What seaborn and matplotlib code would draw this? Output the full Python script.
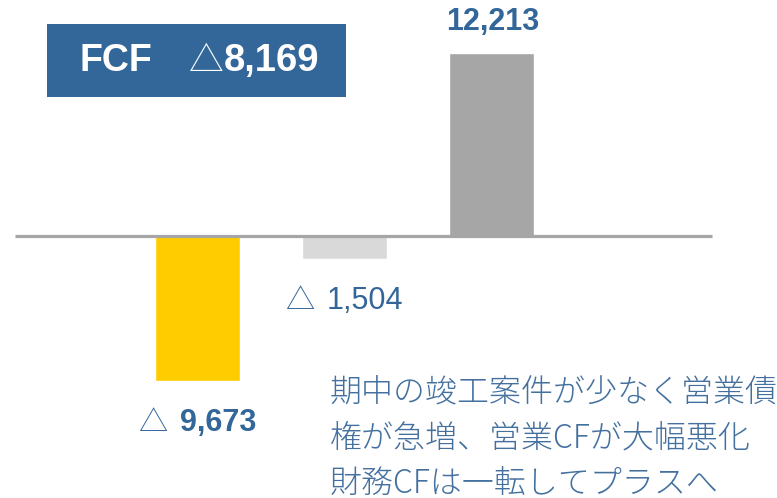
import matplotlib
matplotlib.use("Agg")
import matplotlib.pyplot as plt
from matplotlib.patches import Rectangle
import seaborn as sns
import pandas as pd

# データ (単位: 百万円)
categories = ["営業CF", "投資CF", "財務CF"]
values = [-9673, -1504, 12213]
bar_colors = ["#FFCC00", "#D9D9D9", "#A6A6A6"]
value_labels = ["9,673", "1,504", "12,213"]
fcf_label = "FCF"
fcf_value = "8,169"
note_lines = ["期中の竣工案件が少なく営業債",
              "権が急増、営業CFが大幅悪化",
              "財務CFは一転してプラスへ"]

sns.set_theme(style="white")
plt.rcParams["font.family"] = ["Liberation Sans", "Noto Sans CJK JP", "DejaVu Sans"]

df = pd.DataFrame({"cat": categories, "val": values})

W, H = 777, 498
fig = plt.figure(figsize=(W / 100, H / 100), dpi=100)
ax = fig.add_axes([0, 0, 1, 1])

sns.barplot(data=df, x="cat", y="val", hue="cat", palette=bar_colors,
            width=0.578, legend=False, saturation=1, ax=ax)

# px -> data scale
scale = 183 / 12213
ax.set_xlim(-197.5 / 147, (W - 197.5) / 147)
ax.set_ylim(-(H - 236) / scale, 236 / scale)
ax.axis("off")

# baseline
ax.plot([(15 - 197.5) / 147, (712 - 197.5) / 147], [0, 0],
        color="#A6A6A6", lw=2.3, solid_capstyle="butt", zorder=3)

blue = "#336699"
px = 0.72  # points per pixel
for i, (v, lab) in enumerate(zip(values, value_labels)):
    if v < 0:
        bold = "bold" if i == 0 else "normal"
        ax.annotate("△", (i, v), xytext=(-44.5 * px, -42 * px), textcoords="offset points",
                    ha="center", va="center", fontsize=21, color=blue,
                    family=["Noto Sans CJK JP"], fontweight="light")
        ax.annotate(lab, (i, v), xytext=(-17.5 * px, -42 * px), textcoords="offset points",
                    ha="left", va="center", fontsize=22, color=blue, fontweight=bold)
    else:
        ax.annotate(lab, (i, v), xytext=(1.5 * px, 31 * px), textcoords="offset points",
                    ha="center", va="center", fontsize=22, color=blue, fontweight="bold")

# FCF box
fig.patches.append(Rectangle((47 / W, 1 - 97 / H), 299 / W, 73 / H,
                             transform=fig.transFigure, facecolor=blue,
                             edgecolor="none", zorder=5))
fig.text(80 / W, 1 - 61 / H, fcf_label, color="white", fontsize=27,
         fontweight="bold", ha="left", va="center", zorder=6)
fig.text(206 / W, 1 - 61 / H, "△", color="white", fontsize=25,
         family=["Noto Sans CJK JP"], fontweight="light",
         ha="center", va="center", zorder=6)
fig.text(224 / W, 1 - 61 / H, fcf_value, color="white", fontsize=27.5,
         fontweight="bold", ha="left", va="center", zorder=6)

# 注記
for k, line in enumerate(note_lines):
    fig.text(330 / W, 1 - (393 + 45.5 * k) / H, line, color="#44709F",
             fontsize=23, family=["Noto Sans CJK JP"], fontweight="light",
             ha="left", va="center")

fig.savefig("out.png", dpi=100)
